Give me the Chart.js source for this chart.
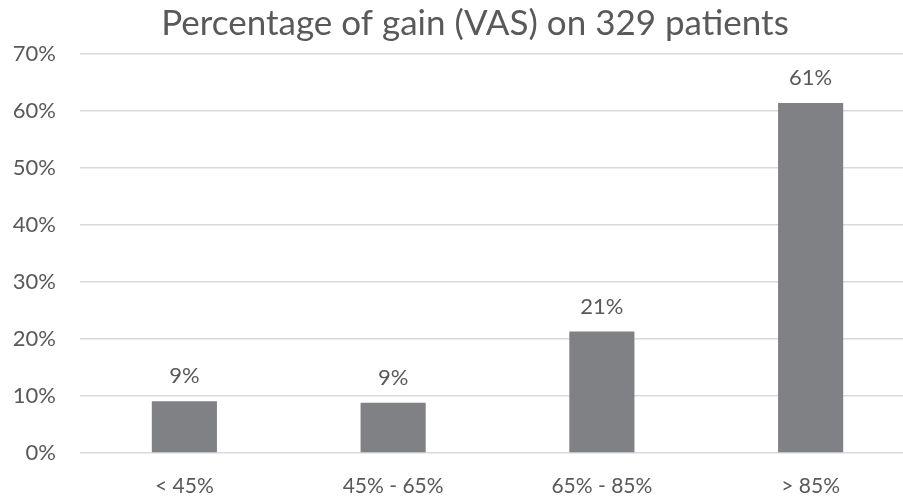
<!DOCTYPE html>
<html>
<head>
<meta charset="utf-8">
<script src="https://cdn.jsdelivr.net/npm/chart.js@4"></script>
<style>
  html, body { margin: 0; padding: 0; background: #fff; overflow: hidden; }
  #wrap { width: 903px; height: 497px; overflow: hidden; position: relative; }
  #box { width: 950px; height: 497px; }
</style>
</head>
<body>
<div id="wrap"><div id="box"><canvas id="c"></canvas></div></div>
<script>
const categories = ['< 45%', '45% - 65%', '65% - 85%', '> 85%'];
const gainShare = [9.1, 8.8, 21.3, 61.4];
const yTicks = [0, 10, 20, 30, 40, 50, 60, 70];

const textGray = '#595959';
const fontFamily = 'Lato, "Open Sans", sans-serif';

// Percent labels above each bar
const valueLabels = {
  id: 'valueLabels',
  afterDatasetsDraw(chart) {
    const ctx = chart.ctx;
    const meta = chart.getDatasetMeta(0);
    ctx.save();
    ctx.fillStyle = textGray;
    ctx.font = '22px ' + fontFamily;
    ctx.textAlign = 'center';
    ctx.textBaseline = 'middle';
    meta.data.forEach((bar, i) => {
      ctx.fillText(Math.round(gainShare[i]) + '%', bar.x, bar.y - 25);
    });
    ctx.restore();
  }
};

new Chart(document.getElementById('c'), {
  type: 'bar',
  data: {
    labels: categories,
    datasets: [{
      data: gainShare,
      backgroundColor: '#808185',
      borderWidth: 0,
      categoryPercentage: 1,
      barPercentage: 0.312
    }]
  },
  options: {
    responsive: true,
    maintainAspectRatio: false,
    animation: false,
    plugins: {
      legend: { display: false },
      tooltip: { enabled: false },
      title: {
        display: true,
        text: 'Percentage of gain (VAS) on 329 patients',
        color: textGray,
        font: { family: fontFamily, size: 35, weight: 'normal', lineHeight: 1.2 },
        padding: { top: 3, bottom: 9 }
      }
    },
    scales: {
      x: {
        grid: { display: false },
        border: { display: false },
        ticks: {
          color: textGray,
          font: { family: fontFamily, size: 21 },
          padding: 13
        },
        afterFit(scale) { scale.height = 44; }
      },
      y: {
        min: 0,
        max: 70,
        afterBuildTicks(scale) { scale.ticks = yTicks.map(v => ({ value: v })); },
        grid: { color: '#d9d9d9', lineWidth: 1.5, drawTicks: false },
        border: { display: false },
        ticks: {
          color: textGray,
          font: { family: fontFamily, size: 22 },
          padding: 24,
          callback: v => v + '%'
        },
        afterFit(scale) { scale.width = 80; }
      },
      // empty right-hand margin strip of the chart frame
      margin: {
        type: 'linear',
        position: 'right',
        grid: { display: false },
        border: { display: false },
        ticks: { display: false },
        afterFit(scale) { scale.width = 35; }
      }
    }
  },
  plugins: [valueLabels]
});
</script>
</body>
</html>
